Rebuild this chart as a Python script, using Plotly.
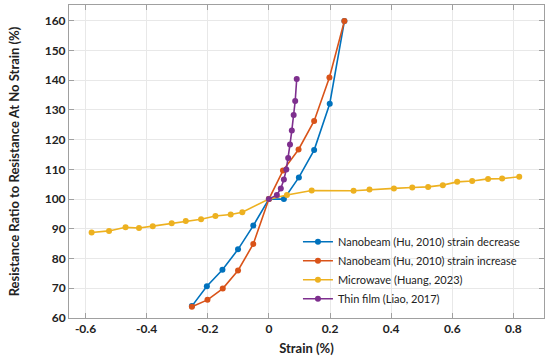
import plotly.graph_objects as go

dec_x = [-0.252, -0.203, -0.152, -0.101, -0.051, 0.0, 0.049, 0.098, 0.148, 0.199, 0.247]
dec_y = [64.0, 70.7, 76.2, 83.1, 91.1, 100.0, 100.0, 107.3, 116.5, 132.1, 159.9]

inc_x = [-0.252, -0.201, -0.151, -0.101, -0.051, 0.0, 0.046, 0.097, 0.148, 0.198, 0.247]
inc_y = [63.8, 66.1, 69.9, 76.0, 84.9, 100.0, 109.6, 116.7, 126.3, 140.9, 159.9]

mw_x = [-0.580, -0.523, -0.469, -0.425, -0.380, -0.318, -0.272, -0.222, -0.175, -0.125, -0.087,
        0.0, 0.059, 0.140, 0.277, 0.329, 0.409, 0.469, 0.521, 0.569, 0.616, 0.665, 0.717, 0.763, 0.819]
mw_y = [88.75, 89.3, 90.5, 90.3, 90.9, 91.9, 92.6, 93.2, 94.3, 94.8, 95.6,
        100.0, 101.4, 102.9, 102.8, 103.2, 103.6, 103.9, 104.1, 104.7, 105.8, 106.1, 106.8, 106.9, 107.5]

tf_x = [0.0, 0.026, 0.039, 0.049, 0.057, 0.063, 0.069, 0.075, 0.081, 0.086, 0.091]
tf_y = [100.0, 101.4, 103.6, 106.6, 110.0, 113.8, 118.4, 123.1, 128.3, 133.0, 140.4]

names = ["Nanobeam (Hu, 2010) strain decrease", "Nanobeam (Hu, 2010) strain increase",
         "Microwave (Huang, 2023)", "Thin film (Liao, 2017)"]
colors = ["#0072BD", "#D95319", "#EDB120", "#7E2F8E"]

x_ticks = [-0.6, -0.4, -0.2, 0, 0.2, 0.4, 0.6, 0.8]
x_labels = ["-0.6", "-0.4", "-0.2", "0", "0.2", "0.4", "0.6", "0.8"]
y_ticks = [60, 70, 80, 90, 100, 110, 120, 130, 140, 150, 160]

fig = go.Figure()
for xs, ys, nm, c in zip([dec_x, inc_x, mw_x, tf_x], [dec_y, inc_y, mw_y, tf_y], names, colors):
    fig.add_trace(go.Scatter(x=xs, y=ys, name=nm, mode="lines+markers",
                             line=dict(color=c, width=1.6),
                             marker=dict(color=c, size=6)))

font_family = "Lato, Open Sans, sans-serif"
axis_common = dict(showgrid=True, gridcolor="#e8e8e8", gridwidth=1, automargin=False,
                   showline=True, linecolor="#a0a0a0", linewidth=1, mirror="ticks",
                   ticks="inside", ticklen=5, tickcolor="#a0a0a0", zeroline=False,
                   tickfont=dict(family=font_family, size=12, color="#222", weight="bold"))

fig.update_layout(
    width=550, height=362,
    margin=dict(l=69, r=6, t=5, b=44),
    paper_bgcolor="white", plot_bgcolor="white",
    showlegend=True,
    legend=dict(x=0.482, y=0.29, xanchor="left", yanchor="top",
                bgcolor="rgba(255,255,255,0)", borderwidth=0,
                font=dict(family=font_family, size=11, color="#222"),
                tracegroupgap=0, itemwidth=30),
    xaxis=dict(range=[-0.654, 0.9], tickvals=x_ticks, ticktext=x_labels,
               title=dict(text="Strain (%)", standoff=8,
                          font=dict(family=font_family, size=13, color="#222", weight="bold")),
               **axis_common),
    yaxis=dict(range=[60, 165.3], tickvals=y_ticks,
               title=dict(text="Resistance Ratio to Resistance At No Strain (%)", standoff=22,
                          font=dict(family=font_family, size=13, color="#222", weight="bold")),
               **axis_common),
)

fig.write_html("out.html", config={"displayModeBar": False},
               post_script="document.body.style.margin='0';document.body.style.overflow='hidden';")
